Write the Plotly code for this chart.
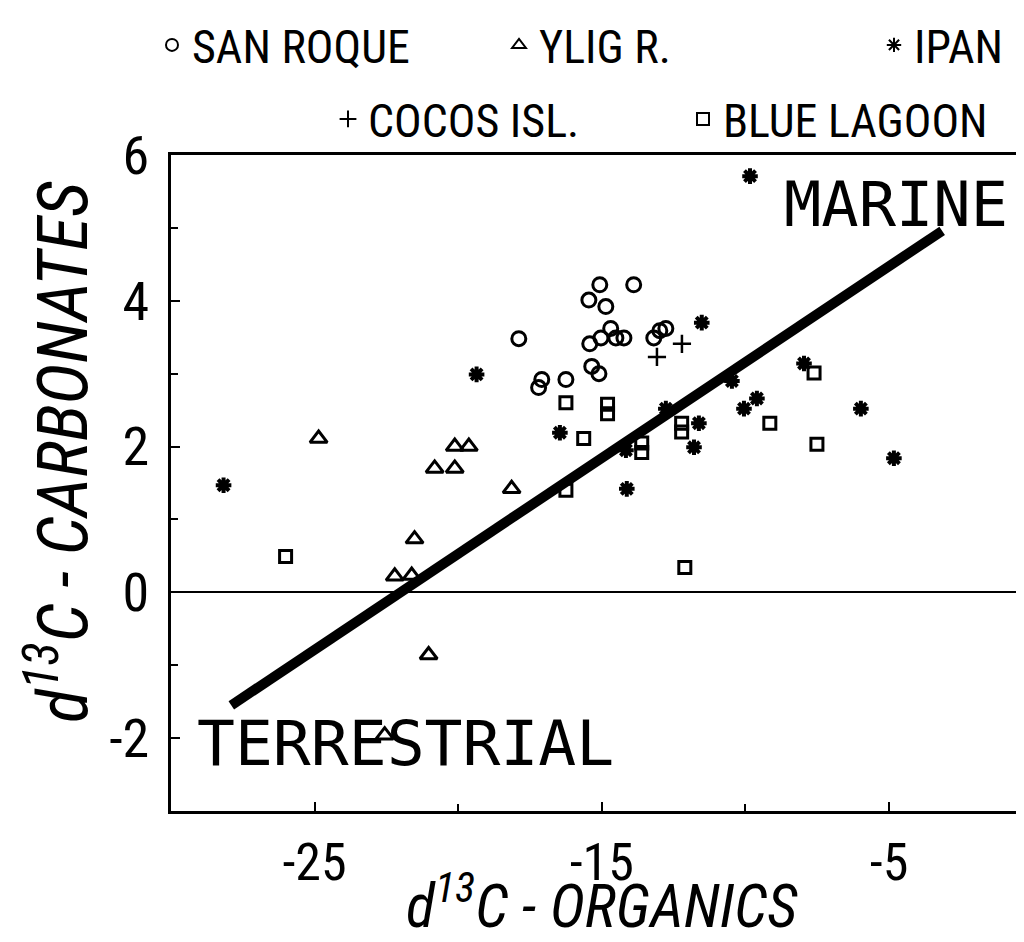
import plotly.graph_objects as go

# ---------------- data ----------------
san_roque_x = [-17.89, -15.07, -13.89, -15.45, -14.86, -14.69, -15.03, -14.51, -14.23,
               -15.42, -13.19, -12.98, -12.77, -15.35, -15.10, -17.09, -17.20, -16.25]
san_roque_y = [3.48, 4.22, 4.22, 4.01, 3.92, 3.62, 3.49, 3.49, 3.49,
               3.41, 3.49, 3.59, 3.62, 3.10, 3.00, 2.92, 2.81, 2.92]

ylig_x = [-24.86, -20.12, -19.63, -20.82, -20.12, -21.52, -22.21, -21.62, -18.14, -21.03, -22.56]
ylig_y = [2.11, 2.00, 2.00, 1.70, 1.70, 0.73, 0.22, 0.23, 1.42, -0.86, -1.96]

ipan_x = [-28.17, -19.36, -16.46, -9.84, -11.52, -10.47, -12.77, -11.62, -11.79,
          -14.16, -14.13, -7.96, -9.60, -10.05, -5.98, -4.83]
ipan_y = [1.47, 2.99, 2.19, 5.71, 3.70, 2.90, 2.52, 2.32, 1.99,
          1.95, 1.42, 3.14, 2.66, 2.52, 2.52, 1.84]

cocos_x = [-13.08, -12.21]
cocos_y = [3.23, 3.41]

blue_x = [-26.01, -16.25, -14.80, -14.80, -15.63, -16.25, -13.61, -13.61,
          -12.22, -12.22, -7.61, -9.15, -7.51, -12.11]
blue_y = [0.49, 2.60, 2.58, 2.45, 2.11, 1.40, 2.05, 1.92,
          2.32, 2.20, 3.01, 2.32, 2.03, 0.34]

line_x = [-27.9, -3.15]
line_y = [-1.55, 4.96]

x_tick_vals = [-25, -15, -5]
x_tick_text = ["-25", "-15", "-5"]
y_tick_vals = [-2, 0, 2, 4, 6]
y_tick_text = ["-2", "0", "2", "4", "6"]

# ---------------- styling ----------------
NARROW = "Liberation Sans Narrow, Roboto Condensed, DejaVu Sans Condensed, Liberation Sans, sans-serif"
MONO = "DejaVu Sans Mono, Liberation Mono, monospace"
BLACK = "black"

fig = go.Figure()

fig.add_trace(go.Scatter(x=line_x, y=line_y, mode="lines",
                         line=dict(color=BLACK, width=10), showlegend=False,
                         hoverinfo="skip"))

fig.add_trace(go.Scatter(x=san_roque_x, y=san_roque_y, mode="markers", name="SAN ROQUE",
                         marker=dict(symbol="circle-open", size=14, color=BLACK,
                                     line=dict(width=3, color=BLACK)),
                         legend="legend"))
fig.add_trace(go.Scatter(x=ylig_x, y=ylig_y, mode="markers", name="YLIG R.",
                         marker=dict(symbol="triangle-up-open", size=15, color=BLACK,
                                     line=dict(width=3, color=BLACK)),
                         legend="legend2"))
fig.add_trace(go.Scatter(x=ipan_x, y=ipan_y, mode="markers", name="IPAN",
                         marker=dict(symbol="asterisk-open", size=13, color=BLACK,
                                     line=dict(width=4, color=BLACK)),
                         legend="legend3"))
fig.add_trace(go.Scatter(x=cocos_x, y=cocos_y, mode="markers", name="COCOS ISL.",
                         marker=dict(symbol="cross-thin-open", size=13, color=BLACK,
                                     line=dict(width=2.5, color=BLACK)),
                         legend="legend4"))
fig.add_trace(go.Scatter(x=blue_x, y=blue_y, mode="markers", name="BLUE LAGOON",
                         marker=dict(symbol="square-open", size=12, color=BLACK,
                                     line=dict(width=3, color=BLACK)),
                         legend="legend5"))

# the page body adds an 8px offset; size the figure so the plot lands where the reference has it
OFF = 8
W, H = 1024 - OFF, 942 - OFF
L = 171 - OFF
T = 155 - OFF
B = H - (811 - OFF)
R = 0
PW, PH = W - L - R, H - T - B


def px(xp):
    """reference page x pixel -> paper coordinate"""
    return (xp - OFF - L) / PW


def py(yp):
    """reference page y pixel -> paper coordinate"""
    return (H - B - (yp - OFF)) / PH


legend_font = dict(family=NARROW, size=46, color=BLACK)
common_leg = dict(orientation="h", xanchor="left", yanchor="middle",
                  bgcolor="rgba(0,0,0,0)", borderwidth=0, font=legend_font,
                  itemsizing="constant")

fig.update_layout(
    width=W, height=H,
    margin=dict(l=L, r=R, t=T, b=B, pad=0, autoexpand=False),
    paper_bgcolor="white", plot_bgcolor="white",
    legend=dict(x=px(152), y=py(45), **common_leg),
    legend2=dict(x=px(499), y=py(45), **common_leg),
    legend3=dict(x=px(874), y=py(45), **common_leg),
    legend4=dict(x=px(328), y=py(119), **common_leg),
    legend5=dict(x=px(683), y=py(119), **common_leg),
    font=dict(family=NARROW, color=BLACK),
)

fig.update_xaxes(range=[-30, -0.3], showgrid=False, zeroline=False,
                 showline=True, linewidth=3, linecolor=BLACK, mirror=True,
                 tickmode="array", tickvals=x_tick_vals, ticktext=x_tick_text,
                 ticks="inside", ticklen=9, tickwidth=2, tickcolor=BLACK,
                 ticklabelstandoff=4,
                 tickfont=dict(family=NARROW, size=52, color=BLACK),
                 automargin=False,
                 minor=dict(dtick=5, tick0=-30, ticks="inside", ticklen=7,
                            tickwidth=2, tickcolor=BLACK, showgrid=False))
fig.update_yaxes(range=[-3, 6], showgrid=False,
                 zeroline=True, zerolinewidth=2, zerolinecolor=BLACK,
                 showline=True, linewidth=3, linecolor=BLACK, mirror=False,
                 tickmode="array", tickvals=y_tick_vals, ticktext=y_tick_text,
                 ticks="inside", ticklen=9, tickwidth=2, tickcolor=BLACK,
                 ticklabelstandoff=8, automargin=False,
                 tickfont=dict(family=NARROW, size=54, color=BLACK),
                 minor=dict(dtick=1, tick0=-3, ticks="inside", ticklen=7,
                            tickwidth=2, tickcolor=BLACK, showgrid=False))

# axis titles
fig.add_annotation(text="<i>d<sup>13</sup>C - ORGANICS</i>", xref="paper", yref="paper",
                   x=px(602), y=py(902), xanchor="center", yanchor="middle",
                   showarrow=False, font=dict(family=NARROW, size=60, color=BLACK))
fig.add_annotation(text="<i>d<sup>13</sup>C - CARBONATES</i>", xref="paper", yref="paper",
                   x=px(58), y=py(452), xanchor="center", yanchor="middle", textangle=-90,
                   showarrow=False, font=dict(family=NARROW, size=70, color=BLACK))

# region labels
fig.add_annotation(text="MARINE", x=-8.73, y=5.32, xref="x", yref="y",
                   xanchor="left", yanchor="middle", showarrow=False,
                   font=dict(family=MONO, size=62, color=BLACK))
fig.add_annotation(text="TERRESTRIAL", x=-29.15, y=-2.08, xref="x", yref="y",
                   xanchor="left", yanchor="middle", showarrow=False,
                   font=dict(family=MONO, size=63, color=BLACK))

fig.write_html("out.html")
